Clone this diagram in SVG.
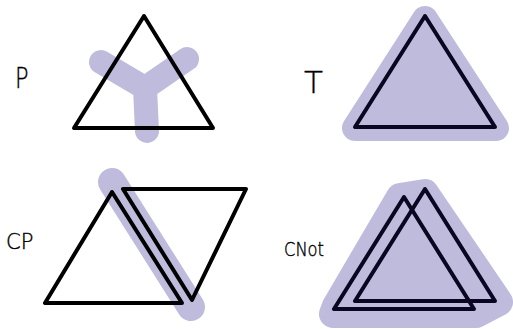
<svg xmlns="http://www.w3.org/2000/svg" width="513" height="329" viewBox="0 0 513 329">
<style>
.lbl{font-family:"DejaVu Sans","Liberation Sans",sans-serif;font-weight:200;fill:#000;stroke:#000;stroke-width:0.4}
.tri{fill:none;stroke:#000;stroke-width:4;stroke-linejoin:round}
.tri2{fill:none;stroke:#0a0520;stroke-width:4;stroke-linejoin:round}
.hl{fill:none;stroke:#bebbdd;stroke-linecap:round;stroke-linejoin:round}
.blob{fill:#bebbdd;stroke:#bebbdd;stroke-linejoin:round}
</style>
<rect width="513" height="329" fill="#fff"/>
<g id="P">
  <text class="lbl" x="15" y="88" font-size="28" transform="translate(15 88) scale(0.8 1) translate(-15 -88)">P</text>
  <path class="hl" stroke-width="24" d="M101,62 L145,88 L187,59 M145,88 L147,131"/>
  <polygon class="tri" points="144,16 74,128 213,128"/>
</g>
<g id="T">
  <text class="lbl" x="304" y="93" font-size="31">T</text>
  <polygon class="blob" stroke-width="26" points="425,19 355,128 496,128"/>
  <polygon class="tri2" points="425,16 355,127 495,127"/>
</g>
<g id="CP">
  <text class="lbl" x="6" y="249" font-size="21">CP</text>
  <path class="hl" stroke-width="28" d="M112,182 L191,307"/>
  <polygon class="tri" points="112,192 45,303 182,303"/>
  <polygon class="tri" points="123,189 246,189 192,300"/>
</g>
<g id="CNot">
  <text class="lbl" x="284" y="256" font-size="19" textLength="40" lengthAdjust="spacingAndGlyphs">CNot</text>
  <polygon class="blob" stroke-width="28" points="425,193 400,197 336,306 333,314 476,314 499,302"/>
  <polygon class="tri2" points="404,197 334,309 474,309"/>
  <polygon class="tri2" points="425,189 355,301 495,301"/>
</g>
</svg>
